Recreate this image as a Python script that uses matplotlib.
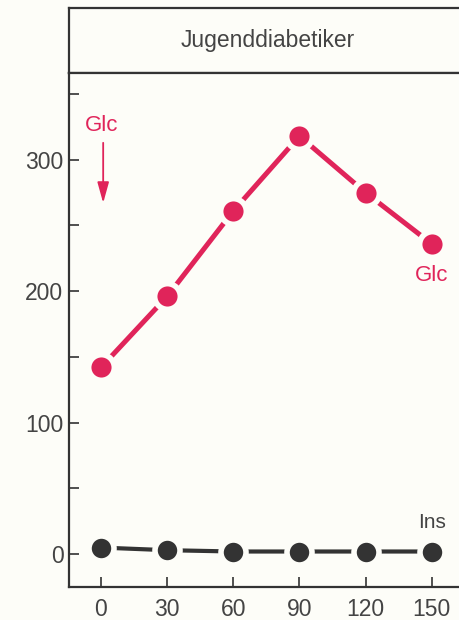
import numpy as np
import matplotlib
matplotlib.use("Agg")
from matplotlib import pyplot as plt

# Zeit (min) und Messwerte
zeit = [0, 30, 60, 90, 120, 150]
glc = [142, 196, 261, 318, 275, 236]
ins = [5, 3, 2, 2, 2, 2]

x_ticks = [0, 30, 60, 90, 120, 150]
y_ticks = [0, 50, 100, 150, 200, 250, 300, 350]
y_labels = ["0", "", "100", "", "200", "", "300", ""]

ROT = "#e0245a"
DUNKEL = "#333333"
GRAU = "#444444"
HG = "#fdfdf8"

plt.rcParams['font.family'] = ['Liberation Sans', 'DejaVu Sans']

fig = plt.figure(figsize=(4.59, 6.2), dpi=100, facecolor=HG)

# Kopfzeile
kopf = fig.add_axes([69/459, 1-73/620, (467-69)/459, 65/620])
kopf.set_facecolor(HG)
kopf.set_xticks([])
kopf.set_yticks([])
for s in kopf.spines.values():
    s.set_linewidth(1.6)
    s.set_color(DUNKEL)
kopf.text(0.5, 0.5, "Jugenddiabetiker", ha='center', va='center',
          fontsize=16.5, color=GRAU, transform=kopf.transAxes)

ax = fig.add_axes([69/459, 33/620, (467-69)/459, (587-73)/620])
ax.set_facecolor(HG)

ax.plot(zeit, glc, '-', color=ROT, lw=3.6, marker='o', ms=18.5,
        mfc=ROT, mec=HG, mew=4, zorder=3)
ax.plot(zeit, ins, '-', color=DUNKEL, lw=3, marker='o', ms=18,
        mfc=DUNKEL, mec=HG, mew=4, zorder=3)

ax.set_xlim(-14.5, 166)
ax.set_ylim(-25, 366)

ax.set_xticks(x_ticks)
ax.set_yticks(y_ticks)
ax.set_yticklabels(y_labels)
ax.tick_params(direction='in', length=7, width=1.2, color=DUNKEL,
               labelsize=16.5, labelcolor=GRAU)
ax.tick_params(axis='x', pad=8)
ax.tick_params(axis='y', pad=4)

ax.spines['right'].set_visible(False)
for side in ['left', 'bottom', 'top']:
    ax.spines[side].set_linewidth(1.6)
    ax.spines[side].set_color(DUNKEL)

# Beschriftungen
ax.text(0.5, 326, "Glc", color=ROT, fontsize=16, ha='center', va='center')
ax.annotate("", xy=(1, 265), xytext=(1, 315),
            arrowprops=dict(arrowstyle='-|>,head_length=0.9,head_width=0.25',
                            color=ROT, lw=1.3, mutation_scale=14))
ax.text(150, 212, "Glc", color=ROT, fontsize=16, ha='center', va='center')
ax.text(150, 24, "Ins", color=GRAU, fontsize=15, ha='center', va='center')

fig.savefig("out.png", dpi=100, facecolor=HG)
